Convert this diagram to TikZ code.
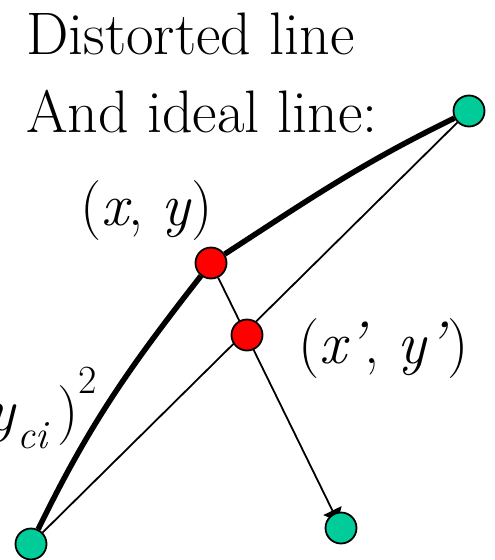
\documentclass[tikz,border=0pt]{standalone}
\usepackage{fontspec}
\usetikzlibrary{arrows.meta}
\definecolor{ptGreen}{RGB}{0, 204, 153}
\definecolor{ptRed}{RGB}{255, 0, 0}
\pgfdeclarelayer{back}
\pgfsetlayers{back,main}
\tikzset{
  endpt/.style={circle, draw, line width=1.8pt, fill=ptGreen, minimum size=31pt, inner sep=0pt},
  datapt/.style={circle, draw, line width=1.8pt, fill=ptRed, minimum size=31pt, inner sep=0pt},
  bigtext/.style={font=\fontsize{60}{72}\selectfont, inner sep=0pt},
  thinln/.style={line width=1.8pt}
}

\begin{document}
\begin{tikzpicture}[x=1pt, y=-1pt]
        \useasboundingbox (0,0) rectangle (495,560);

        \node[endpt] (g1) at (31,544) {};
        \node[endpt] (g2) at (469,111) {};
        \node[endpt] (g3) at (341,528) {};
        \node[datapt] (r1) at (211,263) {};
        \node[datapt] (r2) at (247,335) {};

        \node[bigtext, anchor=base west] (title1) at (26,54) {Distorted line};
        \node[bigtext, anchor=base west] (title2) at (26,132) {And ideal line:};
        \node[bigtext, anchor=base west] (lblR1) at (80,225) {(\textit{x}, \textit{y})};
        \node[bigtext, anchor=base west] (lblR2) at (298,363) {(\textit{x’}, \textit{y’})};
        \node[bigtext, anchor=base east] (lblErr) at (97,430) {\textit{y}\raisebox{-18pt}{\fontsize{40}{40}\selectfont\textit{ci}}\kern8pt)\raisebox{37pt}{\fontsize{40}{40}\selectfont 2}};

        \begin{pgfonlayer}{back}
          \draw[thinln] (g1) -- (g2);
          \draw[thinln, -{Triangle[width=20pt,length=12pt]}, shorten >=-9pt] (r1) -- (g3);
          \draw[line width=5.5pt] (g1) to[out=64,in=-128] (r1) to[out=33,in=-154] (g2);
        \end{pgfonlayer}
      \end{tikzpicture}
\end{document}
